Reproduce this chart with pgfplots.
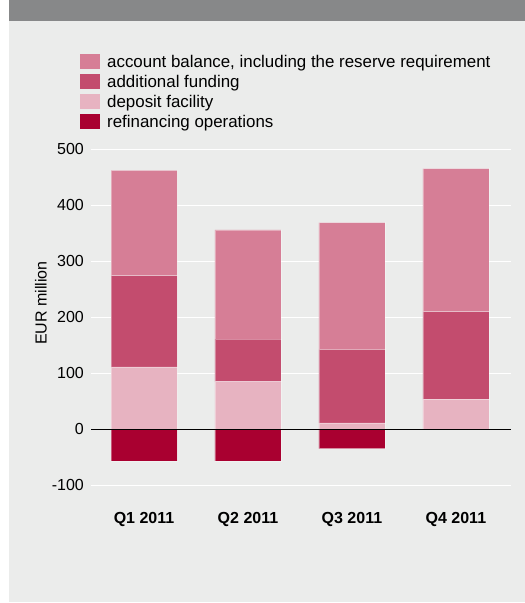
\documentclass[border=0pt]{standalone}
\usepackage{pgfplots}
\pgfplotsset{compat=1.18}
\usepackage{pgfplotstable}
\usepackage{fontspec}
\setmainfont{Liberation Sans}
\definecolor{bgc}{HTML}{EBECEB}
\definecolor{topbar}{HTML}{878889}
\definecolor{cacc}{HTML}{D67E96}
\definecolor{cadd}{HTML}{C34C6E}
\definecolor{cdep}{HTML}{E7B3C1}
\definecolor{cref}{HTML}{A90030}
\pgfplotstableread{
x dep add acc ref
0 111 163.5 188 -57
1 85 76 195 -57
2 11 131.5 226.5 -35
3 53 157 255.5 0
}\datatable
\begin{document}
\begin{tikzpicture}[x=1pt,y=1pt]
\useasboundingbox (0,0) rectangle (525,603);
\fill[white] (0,0) rectangle (525,603);
\fill[bgc] (9,1) rectangle (525,603);
\fill[topbar] (9,582.3) rectangle (525,603);
\pgfplotsset{
  common/.style={
    scale only axis,
    width=420pt, height=335.6pt,
    at={(91pt,118pt)}, anchor=south west,
    xmin=-0.51, xmax=3.53,
    ymin=-100, ymax=500,
    bar width=66pt,
    clip=false,
  },
  barsty/.style={fill=#1, draw=white, draw opacity=0.35, line width=0.6pt},
}
\begin{axis}[common,
  ybar stacked,
  axis line style={draw=none},
  major tick length=0pt,
  ytick={-100,0,...,500},
  xtick={0,1,2,3},
  xticklabels={Q1 2011,Q2 2011,Q3 2011,Q4 2011},
  ymajorgrids,
  grid style={white, line width=0.9pt},
  /pgf/number format/assume math mode=true,
  tick label style={font=\fontsize{16}{18}\selectfont},
  yticklabel style={anchor=east, inner sep=0pt, xshift=-7pt},
  xticklabel style={anchor=north, inner sep=0pt, yshift=-27pt, font=\fontsize{16}{18}\selectfont\bfseries},
  ylabel={EUR million},
  ylabel style={at={(axis description cs:-0.119,0.542)}, anchor=center, font=\fontsize{16}{18}\selectfont},
  legend style={at={(axis description cs:-0.0262,1.2843)}, anchor=north west,
    draw=none, fill=none, inner sep=0pt, row sep=3pt, column sep=7pt,
    font=\fontsize{16.9}{18}\selectfont,
    nodes={inner sep=0pt, text height=11.5pt, text depth=3.5pt, yshift=-1pt}},
  legend cell align=left,
  legend image code/.code={\path[#1, draw=none] (0pt,-6.5pt) rectangle (20pt,8.5pt);},
]
\addlegendimage{fill=cacc}
\addlegendentry{account balance, including the reserve requirement}
\addlegendimage{fill=cadd}
\addlegendentry{additional funding}
\addlegendimage{fill=cdep}
\addlegendentry{deposit facility}
\addlegendimage{fill=cref}
\addlegendentry{refinancing operations}
\addplot[barsty=cdep] table[x=x,y=dep]{\datatable};
\addplot[barsty=cadd] table[x=x,y=add]{\datatable};
\addplot[barsty=cacc] table[x=x,y=acc]{\datatable};
\end{axis}
\begin{axis}[common, ybar, bar shift=0pt, hide axis]
\addplot[barsty=cref] table[x=x,y=ref]{\datatable};
\draw[black, line width=0.9pt] (axis cs:-0.51,0) -- (axis cs:3.53,0);
\end{axis}
\end{tikzpicture}
\end{document}
